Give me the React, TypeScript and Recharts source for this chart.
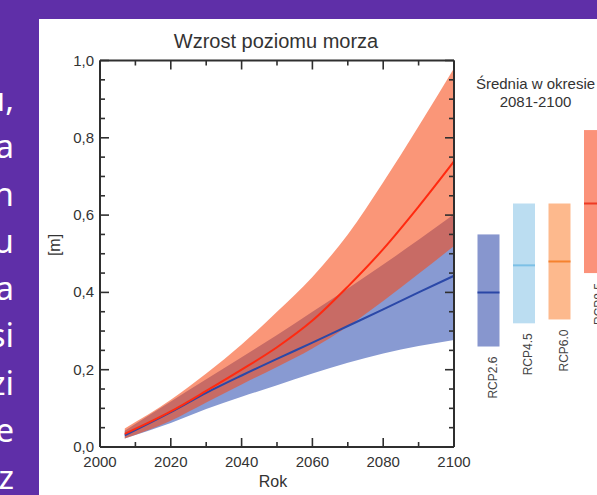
import React from 'react';
import { ComposedChart, Area, Line, XAxis, YAxis, Bar } from 'recharts';

// ---- data ----
const years = [2007, 2020, 2030, 2040, 2050, 2060, 2070, 2080, 2090, 2100];
const rcp26Mean = [0.03, 0.09, 0.14, 0.185, 0.228, 0.27, 0.313, 0.356, 0.4, 0.443];
const rcp26Low = [0.022, 0.062, 0.098, 0.13, 0.16, 0.19, 0.218, 0.242, 0.261, 0.277];
const rcp26High = [0.042, 0.118, 0.175, 0.232, 0.29, 0.35, 0.41, 0.472, 0.536, 0.602];
const rcp85Mean = [0.034, 0.092, 0.145, 0.2, 0.258, 0.327, 0.415, 0.512, 0.622, 0.739];
const rcp85Low = [0.022, 0.068, 0.115, 0.162, 0.207, 0.255, 0.312, 0.378, 0.448, 0.52];
const rcp85High = [0.048, 0.122, 0.19, 0.265, 0.35, 0.44, 0.55, 0.685, 0.83, 0.98];

const scenarios = ['RCP2.6', 'RCP4.5', 'RCP6.0', 'RCP8.5'];
const periodMean = [0.4, 0.47, 0.48, 0.63];
const periodLow = [0.26, 0.32, 0.33, 0.45];
const periodHigh = [0.55, 0.63, 0.63, 0.82];

const xTicks = [2000, 2010, 2020, 2030, 2040, 2050, 2060, 2070, 2080, 2090, 2100];
const yTicks = [0, 0.05, 0.1, 0.15, 0.2, 0.25, 0.3, 0.35, 0.4, 0.45, 0.5, 0.55, 0.6, 0.65, 0.7, 0.75, 0.8, 0.85, 0.9, 0.95, 1.0];

const sideText = ['u,', 'a', 'n', 'u', 'a', 'si', 'zi', 'e', 'z'];

// ---- styles ----
const FONT = '"Liberation Sans", Arial, sans-serif';
const AXIS = '#2f2f2f';
const TEXT = '#333333';
const BAR_FILL = ['#8796CE', '#BBDDF1', '#FDB98D', '#FB927A'];
const BAR_LINE = ['#2A46A6', '#7CC0E6', '#F5822F', '#EE3B24'];

const series = years.map((y, i) => ({
  year: y,
  blue: [rcp26Low[i], rcp26High[i]],
  red: [rcp85Low[i], rcp85High[i]],
  bm: rcp26Mean[i],
  rm: rcp85Mean[i],
}));

const periods = scenarios.map((n, i) => ({
  name: n,
  low: periodLow[i],
  high: periodHigh[i],
  mean: periodMean[i],
}));

const isMajorX = (v: number) => v % 20 === 0;
const isMajorY = (v: number) => Math.abs(v * 5 - Math.round(v * 5)) < 1e-6;
const fmtY = (v: number) => v.toFixed(1).replace('.', ',');

const BottomTick = (p: any) => {
  const v = p.payload.value;
  const major = isMajorX(v);
  return (
    <g>
      <line x1={p.x} x2={p.x} y1={p.y} y2={p.y - (major ? 9 : 5)} stroke={AXIS} strokeWidth={1.6} />
      {major && (
        <text x={p.x} y={p.y + 20} textAnchor="middle" fontSize={15} fill={TEXT} fontFamily={FONT}>
          {v}
        </text>
      )}
    </g>
  );
};
const TopTick = (p: any) => {
  const v = p.payload.value;
  const major = isMajorX(v);
  return <line x1={p.x} x2={p.x} y1={p.y} y2={p.y + (major ? 9 : 5)} stroke={AXIS} strokeWidth={1.6} />;
};
const LeftTick = (p: any) => {
  const v = p.payload.value;
  const major = isMajorY(v);
  return (
    <g>
      <line x1={p.x} x2={p.x + (major ? 9 : 5)} y1={p.y} y2={p.y} stroke={AXIS} strokeWidth={1.6} />
      {major && (
        <text x={p.x - 6} y={p.y + 5} textAnchor="end" fontSize={15} fill={TEXT} fontFamily={FONT}>
          {fmtY(v)}
        </text>
      )}
    </g>
  );
};
const RightTick = (p: any) => {
  const v = p.payload.value;
  const major = isMajorY(v);
  return <line x1={p.x} x2={p.x - (major ? 9 : 5)} y1={p.y} y2={p.y} stroke={AXIS} strokeWidth={1.6} />;
};

const BarShape = (p: any) => {
  const { x, y, width, height, payload, index } = p;
  const top = Math.min(y, y + height);
  const h = Math.abs(height);
  const meanY = top + (h * (payload.high - payload.mean)) / (payload.high - payload.low);
  const cx = x + width / 2;
  return (
    <g>
      <rect x={x} y={top} width={width} height={h} fill={BAR_FILL[index]} />
      <line x1={x} x2={x + width} y1={meanY} y2={meanY} stroke={BAR_LINE[index]} strokeWidth={2} />
      <text
        transform={`translate(${cx + 8},${top + h + 10}) rotate(-90)`}
        textAnchor="end"
        fontSize={12}
        fill="#444"
        fontFamily={FONT}
      >
        {payload.name}
      </text>
    </g>
  );
};

export default function App() {
  return (
    <div
      style={{
        position: 'absolute',
        left: 0,
        top: 0,
        width: 597,
        height: 495,
        overflow: 'hidden',
        background: '#5F2FA8',
      }}
    >
      <svg width={40} height={495} style={{ position: 'absolute', left: 0, top: 0 }}>
        {sideText.map((t, i) => (
          <text
            key={i}
            x={14}
            y={111 + i * 47.25}
            textAnchor="end"
            fontSize={33}
            fill="#ffffff"
            fontFamily='"Noto Sans", "Open Sans", sans-serif'
          >
            {t}
          </text>
        ))}
      </svg>
      <div style={{ position: 'absolute', left: 39, top: 19, right: 0, bottom: 0, background: '#ffffff' }} />

      <div style={{ position: 'absolute', left: 0, top: 0 }}>
        <ComposedChart width={597} height={495} data={series} margin={{ top: 50.5, right: 133, bottom: 18, left: 40 }}>
          <XAxis
            xAxisId="b"
            dataKey="year"
            type="number"
            domain={[2000, 2100]}
            allowDataOverflow
            ticks={xTicks}
            interval={0}
            height={30}
            tickSize={0}
            tickMargin={0}
            tickLine={false}
            axisLine={{ stroke: AXIS, strokeWidth: 2 }}
            tick={<BottomTick />}
          />
          <XAxis
            xAxisId="t"
            orientation="top"
            dataKey="year"
            type="number"
            domain={[2000, 2100]}
            allowDataOverflow
            ticks={xTicks}
            interval={0}
            height={10}
            tickSize={0}
            tickMargin={0}
            tickLine={false}
            axisLine={{ stroke: AXIS, strokeWidth: 2 }}
            tick={<TopTick />}
          />
          <YAxis
            yAxisId="l"
            type="number"
            domain={[0, 1]}
            allowDataOverflow
            ticks={yTicks}
            interval={0}
            width={60}
            tickSize={0}
            tickMargin={0}
            tickLine={false}
            axisLine={{ stroke: AXIS, strokeWidth: 2 }}
            tick={<LeftTick />}
          />
          <YAxis
            yAxisId="r"
            orientation="right"
            type="number"
            domain={[0, 1]}
            allowDataOverflow
            ticks={yTicks}
            interval={0}
            width={10}
            tickSize={0}
            tickMargin={0}
            tickLine={false}
            axisLine={{ stroke: AXIS, strokeWidth: 2 }}
            tick={<RightTick />}
          />
          <Area
            xAxisId="b"
            yAxisId="l"
            type="monotone"
            dataKey="blue"
            stroke="none"
            fill="#889AD2"
            fillOpacity={1}
            isAnimationActive={false}
          />
          <Area
            xAxisId="b"
            yAxisId="l"
            type="monotone"
            dataKey="red"
            stroke="none"
            fill="#F74A16"
            fillOpacity={0.58}
            isAnimationActive={false}
          />
          <Line
            xAxisId="b"
            yAxisId="l"
            type="monotone"
            dataKey="bm"
            stroke="#2B48A8"
            strokeWidth={2}
            dot={false}
            isAnimationActive={false}
          />
          <Line
            xAxisId="b"
            yAxisId="l"
            type="monotone"
            dataKey="rm"
            stroke="#FF2A10"
            strokeWidth={2}
            dot={false}
            isAnimationActive={false}
          />
          <Line
            xAxisId="t"
            yAxisId="r"
            type="monotone"
            dataKey="bm"
            stroke="none"
            dot={false}
            isAnimationActive={false}
          />
        </ComposedChart>
      </div>

      <div style={{ position: 'absolute', left: 0, top: 0 }}>
        <ComposedChart width={640} height={495} data={periods} margin={{ top: 60.5, right: 27.5, bottom: 48, left: 470.5 }}>
          <XAxis dataKey="name" type="category" hide height={0} />
          <YAxis type="number" domain={[0, 1]} allowDataOverflow hide width={0} />
          <Bar dataKey={(d: any) => [d.low, d.high]} barSize={22} shape={<BarShape />} isAnimationActive={false} />
        </ComposedChart>
      </div>

      <svg width={597} height={495} style={{ position: 'absolute', left: 0, top: 0, pointerEvents: 'none' }}>
        <text x={276} y={48} textAnchor="middle" fontSize={20} fill={TEXT} fontFamily={FONT}>
          Wzrost poziomu morza
        </text>
        <text x={273} y={487} textAnchor="middle" fontSize={16} fill={TEXT} fontFamily={FONT}>
          Rok
        </text>
        <text transform="translate(60,245) rotate(-90)" textAnchor="middle" fontSize={16} fill={TEXT} fontFamily={FONT}>
          [m]
        </text>
        <text x={535.5} y={89} textAnchor="middle" fontSize={15} fill={TEXT} fontFamily={FONT}>
          Średnia w okresie
        </text>
        <text x={535.5} y={106.5} textAnchor="middle" fontSize={15} fill={TEXT} fontFamily={FONT}>
          2081-2100
        </text>
      </svg>
    </div>
  );
}
